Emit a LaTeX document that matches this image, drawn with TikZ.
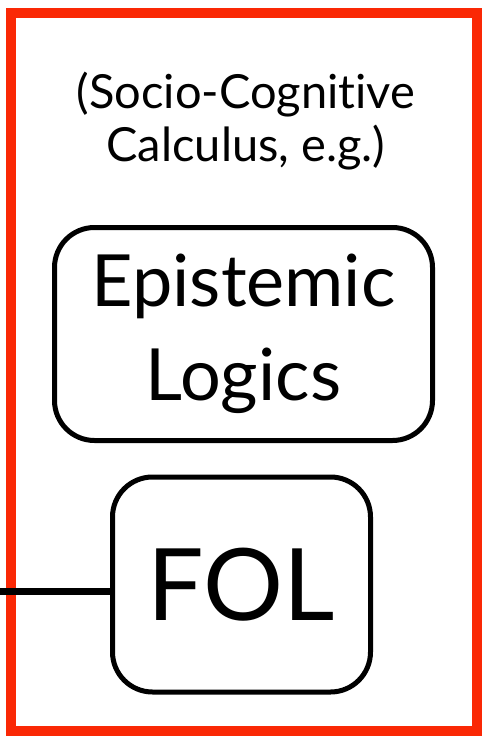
\documentclass[tikz,border=0pt]{standalone}
\usepackage{fontspec}
\setmainfont[Ligatures={NoCommon,NoRare,NoDiscretionary}]{Lato}
\usepackage{xcolor}
\definecolor{framered}{RGB}{250,40,5}

\begin{document}
\begin{tikzpicture}[x=1pt,y=-1pt,
  logicbox/.style={draw,line width=5pt,rounded corners=40pt,inner sep=0pt,align=center}]
  \useasboundingbox (0,0) rectangle (482,736);
  \draw[framered,line width=10pt] (10.5,13) rectangle (477,731);
  \node[align=center,font=\fontsize{47}{53}\selectfont] (calc) at (246,121){(Socio-Cognitive\\Calculus, e.g.)};
  \node[logicbox,minimum width=378pt,minimum height=213pt,font=\fontsize{72}{94}\selectfont] (epi) at (243.5,334){Epistemic\\Logics};
  \node[logicbox,minimum width=258pt,minimum height=215pt,font=\fontsize{100}{100}\selectfont] (fol) at (241.5,584.5){FOL};
  \coordinate (lt) at (0,591);
  \draw[line width=7pt] (lt) -- (lt -| fol.west);
\end{tikzpicture}
\end{document}
